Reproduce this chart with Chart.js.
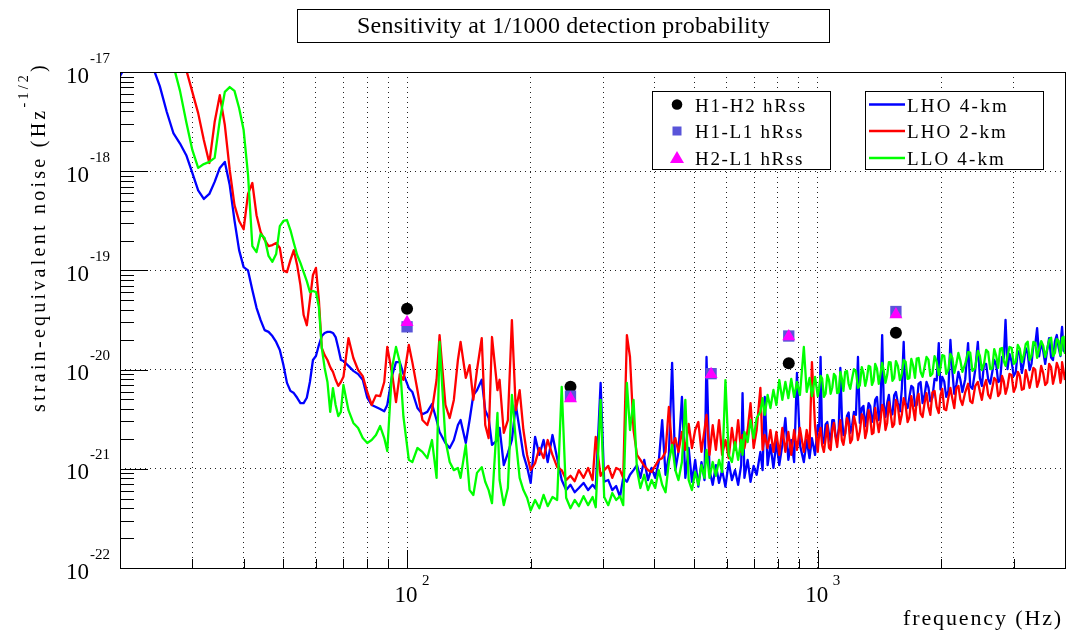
<!DOCTYPE html>
<html>
<head>
<meta charset="utf-8">
<title>Sensitivity at 1/1000 detection probability</title>
<script src="https://cdn.jsdelivr.net/npm/chart.js@4.4.0/dist/chart.umd.min.js"></script>
<style>
  body { margin: 0; background: #fff; }
  canvas { display: block; }
</style>
</head>
<body>
<canvas id="myChart" width="1067" height="633"></canvas>
<script>
// frequency grid (Hz), shared by the three noise curves
const freq = [
  20, 21, 22, 23, 24, 25, 26, 27, 28, 29,
  30, 31, 32, 33, 34, 35, 36, 37, 38, 39,
  40, 41, 42, 43, 44, 45, 46, 47, 48, 49,
  50, 51, 52, 53, 54, 55, 56, 57, 58, 59,
  60, 61, 62, 63, 64, 65, 66, 67, 68, 69,
  70, 72, 74, 76, 78, 80, 82, 84, 86, 88,
  89.5, 92, 94, 96, 98, 101, 103, 106, 109, 112,
  115, 118, 120, 124, 127, 130, 133, 135, 139, 142,
  145, 148, 152, 155, 158, 161, 166, 168, 172, 176,
  180, 184, 188, 192, 196,
  200, 205, 210, 215, 220, 226, 232, 238, 244, 250,
  256, 262, 269, 276, 283, 288, 296, 302, 309, 316,
  323, 330, 336, 343, 349, 356, 363, 370, 378, 386,
  394, 402, 410, 418, 426, 434, 442, 450, 458, 467,
  476, 485, 494, 503, 512, 521, 530, 536, 545, 555,
  565, 575, 585, 596, 607, 618, 629, 640, 651, 656,
  663, 675, 686, 698, 710, 725, 734, 743, 755, 767,
  780, 793, 806, 820, 834, 848, 862, 876, 890, 905,
  925, 940, 955, 968, 985,
  1000, 1008, 1016, 1025, 1035, 1045, 1055, 1065, 1075, 1085,
  1095, 1105, 1115, 1125, 1135, 1145, 1155, 1166, 1178, 1189,
  1200, 1212, 1225, 1239, 1253, 1266, 1280, 1292, 1305, 1317,
  1330, 1342, 1355, 1367, 1380, 1394, 1408, 1421, 1435, 1448,
  1462, 1476, 1490, 1505, 1520, 1535, 1550, 1567, 1585, 1602,
  1619, 1637, 1655, 1672, 1690, 1707, 1725, 1742, 1760, 1780,
  1800, 1820, 1840, 1860, 1880, 1902, 1925, 1948, 1971, 1990,
  2010, 2032, 2055, 2080, 2104, 2127, 2150, 2175, 2200, 2225,
  2250, 2286, 2323, 2351, 2380, 2417, 2454, 2482, 2510, 2540,
  2570, 2600, 2630, 2660, 2690, 2720, 2750, 2780, 2810, 2838,
  2866, 2898, 2930, 2965, 3000, 3035, 3070, 3105, 3140, 3175,
  3210, 3245, 3280, 3315, 3350, 3385, 3421, 3460, 3500, 3540,
  3580, 3620, 3660, 3700, 3740, 3780, 3820, 3860, 3900, 3918,
  3935, 3968, 4000
];

const lho4km = [
  9.1e-18, 1.3e-17, 1.7e-17, 1.3e-17, 1.15e-17, 7.2e-18, 3.95e-18, 2.4e-18, 1.9e-18, 1.45e-18,
  9.6e-19, 6.4e-19, 5.25e-19, 5.9e-19, 7.8e-19, 1.08e-18, 1.24e-18, 7.25e-19, 3.2e-19, 1.6e-19,
  1.08e-19, 1.0e-19, 6.35e-20, 4.2e-20, 3.15e-20, 2.5e-20, 2.4e-20, 2.18e-20, 1.9e-20, 1.58e-20,
  1.11e-20, 7.35e-21, 6.1e-21, 5.8e-21, 5.2e-21, 4.6e-21, 4.6e-21, 5.2e-21, 7.5e-21, 1.25e-20,
  1.37e-20, 1.77e-20, 2.18e-20, 2.34e-20, 2.4e-20, 2.4e-20, 2.34e-20, 2.13e-20, 1.65e-20, 1.25e-20,
  1.22e-20, 1.09e-20, 9.7e-21, 9.0e-21, 7.9e-21, 5.2e-21, 4.4e-21, 4.2e-21, 4.0e-21, 3.8e-21,
  4.4e-21, 8.8e-21, 1.19e-20, 1.19e-20, 9.0e-21, 6.5e-21, 5.95e-21, 4.1e-21, 3.55e-21, 3.75e-21,
  4.5e-21, 3.1e-21, 2.35e-21, 1.82e-21, 1.62e-21, 1.95e-21, 2.76e-21, 3.1e-21, 1.82e-21, 3.1e-21,
  5.55e-21, 6.2e-21, 7.9e-21, 3.9e-21, 3.25e-21, 1.74e-21, 1.95e-21, 2.58e-21, 1.09e-21, 1.44e-21,
  1.95e-21, 4.4e-21, 2.46e-21, 1.38e-21, 1.04e-21,
  7.2e-22, 2.1e-21, 1.38e-21, 1.95e-21, 1.17e-21, 2.19e-21, 1.28e-21, 7.7e-22, 6.1e-22, 6.9e-22,
  5.8e-22, 6.4e-22, 7.2e-22, 6.1e-22, 6.9e-22, 6.3e-22, 7.35e-21, 7.4e-22, 7.7e-22, 6.1e-22,
  6.7e-22, 5.2e-22, 8.1e-22, 7.4e-22, 8.7e-22, 9.7e-22, 1.09e-21, 8.1e-22, 1.23e-21, 7.7e-22,
  1.02e-21, 8.1e-22, 1.17e-21, 3.1e-21, 8.7e-22, 1.38e-21, 1.17e-20, 9.7e-22, 1.48e-21, 5.3e-21,
  8.1e-22, 1.62e-21, 7.4e-22, 1.23e-21, 6.6e-22, 1.17e-21, 7.7e-22, 1.34e-20, 9.7e-22, 6.9e-22,
  1.09e-21, 7.2e-22, 9.7e-22, 6.6e-22, 1.17e-21, 7.7e-22, 9.7e-22, 6.9e-22, 1.09e-21, 5.8e-21,
  8.1e-22, 1.23e-21, 7.4e-22, 1.07e-21, 8.7e-22, 1.48e-21, 9.7e-22, 5.3e-21, 1.09e-21, 1.74e-21,
  1.02e-21, 1.86e-21, 1.09e-21, 1.74e-21, 3.25e-21, 1.23e-21, 1.95e-21, 1.17e-21, 9.25e-21, 1.74e-21,
  1.17e-21, 1.95e-21, 1.28e-21, 2.04e-21, 1.38e-21,
  2.76e-21, 2.4e-21, 1.34e-20, 1.9e-21, 1.82e-21, 2.8e-21, 2.96e-21, 2.25e-21, 1.86e-21, 3.1e-21,
  3.1e-21, 2.15e-21, 1.95e-21, 2.55e-21, 1.04e-20, 3.3e-21, 2.19e-21, 2.25e-21, 3.4e-21, 3.7e-21,
  2.3e-21, 2.7e-21, 3.75e-21, 3.5e-21, 1.34e-20, 2.9e-21, 4.1e-21, 4.3e-21, 2.7e-21, 3.4e-21,
  4.6e-21, 4.3e-21, 2.96e-21, 3.4e-21, 4.95e-21, 5.3e-21, 3.1e-21, 3.8e-21, 2.23e-20, 4.5e-21,
  3.33e-21, 4.6e-21, 5.55e-21, 3.75e-21, 3.55e-21, 5.5e-21, 5.95e-21, 4.6e-21, 3.8e-21, 6.3e-21,
  1.9e-20, 4.6e-21, 4.1e-21, 5.3e-21, 6.85e-21, 6.6e-21, 4.3e-21, 4.4e-21, 7.2e-21, 7.5e-21,
  4.6e-21, 5.5e-21, 7.5e-21, 6.6e-21, 4.8e-21, 5.2e-21, 8.05e-21, 7.8e-21, 1.85e-20, 6.3e-21,
  8.45e-21, 7.6e-21, 5.3e-21, 6.1e-21, 1.99e-20, 9.7e-21, 5.7e-21, 7.0e-21, 9.5e-21, 7.9e-21,
  5.95e-21, 8.0e-21, 1.85e-20, 6.8e-21, 6.4e-21, 9.8e-21, 1.9e-20, 8.2e-21, 6.85e-21, 1.14e-20,
  1.14e-20, 8.0e-21, 7.2e-21, 9.4e-21, 1.25e-20, 1.12e-20, 7.5e-21, 7.7e-21, 1.34e-20, 1.3e-20,
  3.17e-20, 1.01e-20, 1.44e-20, 1.21e-20, 8.65e-21, 9.4e-21, 1.54e-20, 1.43e-20, 9.25e-21, 1.18e-20,
  1.65e-20, 1.46e-20, 9.9e-21, 1.14e-20, 1.77e-20, 1.78e-20, 2.62e-20, 1.36e-20, 1.9e-20, 1.54e-20,
  1.14e-20, 1.58e-20, 2.08e-20, 1.32e-20, 1.25e-20, 1.93e-20, 2.23e-20, 1.67e-20, 1.37e-20, 2.24e-20,
  2.69e-20, 1.55e-20, 1.5e-20
];

const lho2km = [
  6e-17, 5.5e-17, 5e-17, 4.5e-17, 4e-17, 3.6e-17, 3.2e-17, 2.8e-17, 1.75e-17, 1.05e-17,
  6.3e-18, 3.85e-18, 2.06e-18, 1.21e-18, 3.13e-18, 5.85e-18, 2.92e-18, 1.03e-18, 4.55e-19, 3.15e-19,
  2.6e-19, 5.9e-19, 7.6e-19, 3.6e-19, 2.44e-19, 2.03e-19, 1.76e-19, 1.8e-19, 1.89e-19, 1.68e-19,
  1.0e-19, 9.6e-20, 1.27e-19, 1.6e-19, 1.13e-19, 7.1e-20, 3.55e-20, 2.8e-20, 5.0e-20, 9.0e-20,
  1.06e-19, 5.0e-20, 1.65e-20, 1.4e-20, 1.25e-20, 1.06e-20, 9.5e-21, 7.9e-21, 6.85e-21, 7.5e-21,
  8.45e-21, 2.08e-20, 1.31e-20, 9.9e-21, 8.6e-21, 5.95e-21, 4.4e-21, 5.5e-21, 5.4e-21, 7.5e-21,
  1.69e-20, 9.0e-21, 4.7e-21, 9.0e-21, 7.9e-21, 1.77e-20, 1.19e-20, 6.2e-21, 3.1e-21, 2.76e-21,
  3.9e-21, 7.9e-21, 2.23e-20, 4.4e-21, 3.25e-21, 4.95e-21, 1.25e-20, 1.9e-20, 8.25e-21, 1.11e-20,
  4.95e-21, 9.9e-21, 2.08e-20, 2.76e-21, 2.04e-21, 2.13e-20, 6.2e-21, 7.9e-21, 2.3e-21, 3.1e-21,
  3.15e-20, 3.9e-21, 6.2e-21, 2.46e-21, 1.38e-21,
  9.7e-22, 1.14e-21, 1.62e-21, 1.28e-21, 1.95e-21, 1.38e-21, 1.04e-21, 9.7e-22, 7.7e-22, 8.5e-22,
  7.5e-22, 9.7e-22, 8.1e-22, 1.02e-21, 7.7e-22, 2.1e-21, 8.5e-22, 9.7e-22, 1.07e-21, 8.1e-22,
  1.02e-21, 9.7e-22, 8.1e-22, 2.23e-20, 1.34e-20, 2.46e-21, 1.38e-21, 1.23e-21, 1.07e-21, 9.7e-22,
  9.3e-22, 1.07e-21, 1.23e-21, 1.28e-21, 1.48e-21, 4.2e-21, 1.62e-21, 2.04e-21, 1.48e-21, 2.35e-21,
  1.55e-21, 2.83e-21, 1.62e-21, 2.46e-21, 2.96e-21, 1.48e-21, 2.46e-21, 3.5e-21, 1.38e-21, 2.76e-21,
  1.55e-21, 3.1e-21, 1.38e-21, 1.95e-21, 1.28e-21, 2.58e-21, 1.55e-21, 3.1e-21, 1.48e-21, 2.19e-21,
  1.62e-21, 2.46e-21, 4.6e-21, 1.62e-21, 2.46e-21, 6.55e-21, 1.55e-21, 2.19e-21, 1.62e-21, 2.46e-21,
  1.48e-21, 2.35e-21, 1.38e-21, 2.58e-21, 1.48e-21, 2.35e-21, 1.38e-21, 2.46e-21, 1.55e-21, 2.58e-21,
  1.48e-21, 2.46e-21, 1.62e-21, 1.19e-20, 2.7e-21,
  1.48e-21, 2.26e-21, 2.58e-21, 1.73e-21, 1.48e-21, 2.0e-21, 2.76e-21, 1.63e-21, 1.55e-21, 2.5e-21,
  2.9e-21, 2.06e-21, 1.66e-21, 2.4e-21, 3.1e-21, 1.93e-21, 1.74e-21, 2.26e-21, 3.25e-21, 2.86e-21,
  1.82e-21, 1.97e-21, 3.4e-21, 2.75e-21, 1.95e-21, 2.37e-21, 3.55e-21, 3.3e-21, 2.04e-21, 2.4e-21,
  3.9e-21, 3.3e-21, 2.24e-21, 2.3e-21, 4.1e-21, 3.1e-21, 2.35e-21, 3.0e-21, 4.4e-21, 4.0e-21,
  2.46e-21, 2.9e-21, 4.7e-21, 3.6e-21, 2.64e-21, 2.8e-21, 4.95e-21, 4.3e-21, 2.83e-21, 3.5e-21,
  5.15e-21, 4.3e-21, 2.96e-21, 3.3e-21, 5.4e-21, 4.1e-21, 3.1e-21, 5.0e-21, 5.7e-21, 3.6e-21,
  3.33e-21, 4.6e-21, 5.8e-21, 4.2e-21, 3.5e-21, 5.9e-21, 6.1e-21, 4.2e-21, 3.65e-21, 5.5e-21,
  6.4e-21, 4.0e-21, 3.9e-21, 5.2e-21, 6.55e-21, 5.1e-21, 4.1e-21, 6.5e-21, 6.85e-21, 5.0e-21,
  4.4e-21, 5.9e-21, 7.2e-21, 4.8e-21, 4.6e-21, 6.8e-21, 7.5e-21, 6.0e-21, 4.95e-21, 6.8e-21,
  7.85e-21, 5.6e-21, 5.15e-21, 6.5e-21, 8.25e-21, 7.8e-21, 5.4e-21, 5.8e-21, 8.65e-21, 7.6e-21,
  5.7e-21, 6.7e-21, 9.05e-21, 8.8e-21, 5.95e-21, 6.7e-21, 9.5e-21, 8.6e-21, 6.25e-21, 6.4e-21,
  9.9e-21, 8.2e-21, 6.55e-21, 8.1e-21, 1.04e-20, 1.0e-20, 6.7e-21, 7.8e-21, 1.09e-20, 9.2e-21,
  7.0e-21, 7.4e-21, 1.14e-20, 1.06e-20, 7.2e-21, 8.7e-21, 1.17e-20, 1.03e-20, 7.35e-21, 8.1e-21,
  1.19e-20, 9.7e-21, 7.85e-21
];

const llo4km = [
  8e-17, 6e-17, 5e-17, 4e-17, 3.2e-17, 2.5e-17, 1.8e-17, 1.15e-17, 6.45e-18, 3.13e-18,
  1.64e-18, 1.08e-18, 1.18e-18, 1.24e-18, 1.36e-18, 3.28e-18, 6.3e-18, 7.05e-18, 6.45e-18, 4.33e-18,
  2.6e-18, 9.2e-19, 1.76e-19, 1.53e-19, 2.33e-19, 2.12e-19, 1.4e-19, 1.22e-19, 1.46e-19, 2.8e-19,
  3.15e-19, 3.22e-19, 2.55e-19, 1.89e-19, 1.43e-19, 1.19e-19, 9.6e-20, 7.8e-20, 6.05e-20, 6.2e-20,
  6.05e-20, 4.27e-20, 1.65e-20, 1.04e-20, 7.5e-21, 3.75e-21, 6.5e-21, 4.4e-21, 3.4e-21, 3.75e-21,
  7.0e-21, 3.9e-21, 2.9e-21, 2.58e-21, 2.04e-21, 1.82e-21, 1.95e-21, 2.19e-21, 2.7e-21, 2.04e-21,
  1.51e-21, 1.06e-20, 1.69e-20, 1.19e-20, 3.33e-21, 1.23e-21, 1.17e-21, 1.62e-21, 1.48e-21, 1.28e-21,
  1.95e-21, 8.1e-22, 1.9e-20, 1.95e-21, 1.17e-21, 9.7e-22, 1.02e-21, 8.1e-22, 1.74e-21, 6.1e-22,
  5.45e-22, 9.1e-22, 1.04e-21, 7.4e-22, 6.1e-22, 4.5e-22, 3.65e-21, 7.7e-22, 4.3e-22, 6.4e-22,
  5.55e-21, 1.95e-21, 8.1e-22, 6.1e-22, 5.1e-22,
  3.8e-22, 4.85e-22, 4.0e-22, 5.45e-22, 4.2e-22, 5.2e-22, 4.85e-22, 6.7e-21, 5.1e-22, 4.0e-22,
  4.85e-22, 4.2e-22, 5.3e-22, 4.3e-22, 5.2e-22, 4.1e-22, 4.95e-21, 5.2e-22, 4.3e-22, 5.7e-22,
  4.85e-22, 5.3e-22, 4.3e-22, 7.35e-21, 2.46e-21, 4.95e-21, 9.7e-22, 6.4e-22, 8.7e-22, 6.1e-22,
  7.7e-22, 6.4e-22, 9.7e-22, 6.9e-22, 5.8e-22, 1.17e-21, 1.74e-21, 9.7e-22, 7.7e-22, 1.17e-21,
  4.95e-21, 7.7e-22, 6.1e-22, 9.3e-22, 6.9e-22, 1.09e-21, 8.1e-22, 1.55e-21, 8.1e-22, 1.17e-21,
  8.5e-22, 1.23e-21, 9.3e-22, 7.85e-21, 1.38e-21, 1.17e-21, 1.86e-21, 1.23e-21, 1.95e-21, 1.38e-21,
  2.35e-21, 1.86e-21, 3.1e-21, 2.04e-21, 3.25e-21, 3.75e-21, 5.15e-21, 3.5e-21, 5.55e-21, 4.1e-21,
  6.25e-21, 4.4e-21, 7.85e-21, 4.95e-21, 7.5e-21, 5.15e-21, 8.05e-21, 5.3e-21, 7.5e-21, 5.55e-21,
  1.69e-20, 5.95e-21, 8.25e-21, 5.4e-21, 8.45e-21,
  5.4e-21, 6.5e-21, 8.65e-21, 8.1e-21, 5.3e-21, 5.7e-21, 8.85e-21, 7.9e-21, 5.7e-21, 6.6e-21,
  9.05e-21, 8.6e-21, 5.8e-21, 5.9e-21, 9.5e-21, 8.1e-21, 6.1e-21, 9.5e-21, 9.7e-21, 7.2e-21,
  6.4e-21, 8.1e-21, 1.01e-20, 9.6e-21, 6.55e-21, 6.9e-21, 1.06e-20, 9.3e-21, 6.85e-21, 8.1e-21,
  1.09e-20, 1.07e-20, 7.0e-21, 7.7e-21, 1.14e-20, 1.02e-20, 7.2e-21, 8.9e-21, 1.17e-20, 9.6e-21,
  7.35e-21, 8.8e-21, 1.19e-20, 1.18e-20, 7.7e-21, 8.2e-21, 1.22e-20, 1.09e-20, 7.85e-21, 9.0e-21,
  1.25e-20, 1.2e-20, 8.05e-21, 8.2e-21, 1.28e-20, 1.1e-20, 8.25e-21, 1.29e-20, 1.31e-20, 9.5e-21,
  8.45e-21, 1.06e-20, 1.34e-20, 1.26e-20, 8.65e-21, 9.1e-21, 1.37e-20, 1.2e-20, 8.85e-21, 1.04e-20,
  1.4e-20, 1.38e-20, 9.05e-21, 1.0e-20, 1.44e-20, 1.31e-20, 9.25e-21, 1.14e-20, 1.47e-20, 1.23e-20,
  9.5e-21, 1.14e-20, 1.5e-20, 1.48e-20, 9.7e-21, 1.04e-20, 1.54e-20, 1.38e-20, 9.9e-21, 1.14e-20,
  1.58e-20, 1.5e-20, 1.01e-20, 1.03e-20, 1.61e-20, 1.38e-20, 1.04e-20, 1.62e-20, 1.65e-20, 1.22e-20,
  1.09e-20, 1.37e-20, 1.69e-20, 1.66e-20, 1.14e-20, 1.2e-20, 1.77e-20, 1.62e-20, 1.19e-20, 1.4e-20,
  1.81e-20, 1.91e-20, 1.25e-20, 1.38e-20, 1.9e-20, 1.86e-20, 1.31e-20, 1.61e-20, 1.94e-20, 1.74e-20,
  1.34e-20, 1.61e-20, 1.99e-20, 2.1e-20, 1.37e-20, 1.47e-20, 2.03e-20, 1.95e-20, 1.4e-20, 1.61e-20,
  2.08e-20, 2.15e-20, 1.44e-20
];

// hRss points
const h1h2Freq = [100, 250, 850, 1550];
const h1h2Rss = [4.1e-20, 6.7e-21, 1.16e-20, 2.35e-20];
const h1l1Freq = [100, 250, 550, 850, 1550];
const h1l1Rss = [2.7e-20, 5.4e-21, 9.1e-21, 2.18e-20, 3.85e-20];
const h2l1Freq = [100, 250, 550, 850, 1550];
const h2l1Rss = [3.0e-20, 5.1e-21, 9.0e-21, 2.15e-20, 3.6e-20];

// axes
const xGridFreqs = [20, 30, 40, 50, 60, 70, 80, 90, 100, 200, 300, 400, 500, 600, 700, 800, 900, 1000, 2000, 3000, 4000];
const xLabelExps = [2, 3];
const yLabelExps = [-17, -18, -19, -20, -21, -22];

const SERIF = '"Liberation Serif", "Times New Roman", serif';
const SQUARE_COLOR = 'rgb(89, 84, 217)';
const plotBox = { left: 120, right: 1065, top: 72, bottom: 568 };

const toXY = (xs, ys) => xs.map((x, i) => ({ x: x, y: ys[i] }));

// text with extra letter spacing so it fills a given length (ROOT draws wide)
function spacedText(c, parts, x, y, width, angle) {
  let natural = 0, count = 0;
  c.letterSpacing = '0px';
  parts.forEach(p => {
    c.font = p[1] + 'px ' + SERIF;
    natural += c.measureText(p[0]).width;
    count += p[0].length;
  });
  const gap = Math.max(0, (width - natural) / count);
  c.save();
  c.translate(x, y);
  c.rotate(angle || 0);
  c.textAlign = 'left';
  c.textBaseline = 'alphabetic';
  let pos = 0;
  parts.forEach(p => {
    c.font = p[1] + 'px ' + SERIF;
    c.letterSpacing = '0px';
    const w = c.measureText(p[0]).width;
    c.letterSpacing = gap + 'px';
    c.fillText(p[0], pos, -(p[2] || 0));
    pos += w + gap * p[0].length;
  });
  c.restore();
  c.letterSpacing = '0px';
}

const rootStyle = {
  id: 'rootStyle',
  afterDraw(chart) {
    const c = chart.ctx;
    const a = chart.chartArea;
    const xs = chart.scales.x;
    const ys = chart.scales.y;
    c.save();
    c.strokeStyle = '#000';
    c.fillStyle = '#000';
    c.lineWidth = 1;

    // frame
    c.strokeRect(a.left + 0.5, a.top + 0.5, a.right - a.left, a.bottom - a.top);

    // ticks (inside the frame)
    c.beginPath();
    yLabelExps.forEach(e => {
      const p = Math.round(ys.getPixelForValue(Math.pow(10, e))) + 0.5;
      c.moveTo(a.left, p);
      c.lineTo(a.left + 28, p);
    });
    for (let e = -22; e < -17; e++) {
      for (let k = 2; k <= 9; k++) {
        const p = Math.round(ys.getPixelForValue(k * Math.pow(10, e))) + 0.5;
        c.moveTo(a.left, p);
        c.lineTo(a.left + 14, p);
      }
    }
    xGridFreqs.forEach(f => {
      const p = Math.round(xs.getPixelForValue(f)) + 0.5;
      const major = f === 100 || f === 1000;
      c.moveTo(p, a.bottom);
      c.lineTo(p, a.bottom - (major ? 18 : 9));
    });
    c.stroke();

    // tick labels
    yLabelExps.forEach(e => {
      const p = ys.getPixelForValue(Math.pow(10, e));
      c.font = '23px ' + SERIF;
      c.textAlign = 'right';
      c.fillText('10', 89, p + 10.5);
      c.font = '15px ' + SERIF;
      c.textAlign = 'left';
      c.fillText(String(e), 90, p - 9.5);
    });
    xLabelExps.forEach(e => {
      const p = xs.getPixelForValue(Math.pow(10, e));
      c.font = '23px ' + SERIF;
      c.textAlign = 'center';
      c.fillText('10', p - 1, 602);
      c.font = '15px ' + SERIF;
      c.textAlign = 'left';
      c.fillText(String(e), p + 15, 585);
    });

    // axis titles (ROOT puts them at the far end of the axis)
    spacedText(c, [['frequency (Hz)', 22]], 903, 625, 160);
    spacedText(c, [['strain-equivalent noise (Hz', 20], ['-1/2', 14, 17], [')', 20]], 45, 412, 350, -Math.PI / 2);

    // title box
    c.fillStyle = '#fff';
    c.fillRect(297.5, 9.5, 532, 33);
    c.strokeRect(297.5, 9.5, 532, 33);
    c.fillStyle = '#000';
    spacedText(c, [['Sensitivity at 1/1000 detection probability', 24]], 357, 33, 413);

    // legend boxes
    [[652.5, 91.5], [865.5, 91.5]].forEach(b => {
      c.fillStyle = '#fff';
      c.fillRect(b[0], b[1], 178, 78);
      c.strokeRect(b[0], b[1], 178, 78);
    });
    const rows = [104.5, 131, 158];
    const base = [111.5, 138, 164.5];

    c.fillStyle = '#000';
    c.beginPath();
    c.arc(677, rows[0], 5.3, 0, Math.PI * 2);
    c.fill();
    c.fillStyle = SQUARE_COLOR;
    c.fillRect(672.5, rows[1] - 4.5, 9, 9);
    c.fillStyle = '#ff00ff';
    c.beginPath();
    c.moveTo(677, rows[2] - 7);
    c.lineTo(684, rows[2] + 5);
    c.lineTo(670, rows[2] + 5);
    c.closePath();
    c.fill();

    c.fillStyle = '#000';
    spacedText(c, [['H1-H2 hRss', 19]], 695, base[0], 112);
    spacedText(c, [['H1-L1 hRss', 19]], 695, base[1], 109);
    spacedText(c, [['H2-L1 hRss', 19]], 695, base[2], 109);

    const lineCols = ['#0000ff', '#ff0000', '#00ff00'];
    c.lineWidth = 2.5;
    lineCols.forEach((col, i) => {
      c.strokeStyle = col;
      c.beginPath();
      c.moveTo(869, rows[i]);
      c.lineTo(905, rows[i]);
      c.stroke();
    });
    spacedText(c, [['LHO 4-km', 19]], 907, base[0], 102);
    spacedText(c, [['LHO 2-km', 19]], 907, base[1], 101);
    spacedText(c, [['LLO 4-km', 19]], 907, base[2], 99);

    c.restore();
  }
};

const curve = (label, data, color, order) => ({
  label: label,
  data: toXY(freq, data),
  showLine: true,
  borderColor: color,
  backgroundColor: color,
  borderWidth: 2.3,
  borderJoinStyle: 'round',
  pointRadius: 0,
  clip: 0,
  order: order
});

const ctx = document.getElementById("myChart").getContext("2d");
const myChart = new Chart(ctx, {
  type: "scatter",
  data: {
    datasets: [
      {
        label: "H2-L1 hRss",
        data: toXY(h2l1Freq, h2l1Rss),
        pointStyle: "triangle",
        pointRadius: 7.5,
        pointBorderWidth: 0,
        backgroundColor: "#ff00ff",
        order: 0
      },
      {
        label: "H1-L1 hRss",
        data: toXY(h1l1Freq, h1l1Rss),
        pointStyle: "rect",
        pointRadius: 8,
        pointBorderWidth: 0,
        backgroundColor: SQUARE_COLOR,
        order: 1
      },
      {
        label: "H1-H2 hRss",
        data: toXY(h1h2Freq, h1h2Rss),
        pointStyle: "circle",
        pointRadius: 6,
        pointBorderWidth: 0,
        backgroundColor: "#000",
        order: 2
      },
      curve("LLO 4-km", llo4km, "#00ff00", 3),
      curve("LHO 2-km", lho2km, "#ff0000", 4),
      curve("LHO 4-km", lho4km, "#0000ff", 5)
    ]
  },
  options: {
    responsive: false,
    animation: false,
    layout: {
      autoPadding: false,
      padding: { left: 120, right: 2, top: 72, bottom: 65 }
    },
    plugins: {
      legend: { display: false },
      tooltip: { enabled: false }
    },
    scales: {
      x: {
        type: "logarithmic",
        min: 20,
        max: 4000,
        afterBuildTicks: axis => { axis.ticks = xGridFreqs.map(v => ({ value: v })); },
        ticks: { display: false },
        grid: { color: "#222", lineWidth: 1, drawTicks: false },
        border: { display: false, dash: [1, 4] }
      },
      y: {
        type: "logarithmic",
        min: 1e-22,
        max: 1e-17,
        afterBuildTicks: axis => { axis.ticks = yLabelExps.map(e => ({ value: Math.pow(10, e) })); },
        ticks: { display: false },
        grid: { color: "#222", lineWidth: 1, drawTicks: false },
        border: { display: false, dash: [1, 4] }
      }
    }
  },
  plugins: [rootStyle]
});

// nudge the layout padding so the plot frame lands where the reference has it
const pad = myChart.options.layout.padding;
const area = myChart.chartArea;
pad.left += plotBox.left - area.left;
pad.right += area.right - plotBox.right;
pad.top += plotBox.top - area.top;
pad.bottom += area.bottom - plotBox.bottom;
myChart.update();
</script>
</body>
</html>
